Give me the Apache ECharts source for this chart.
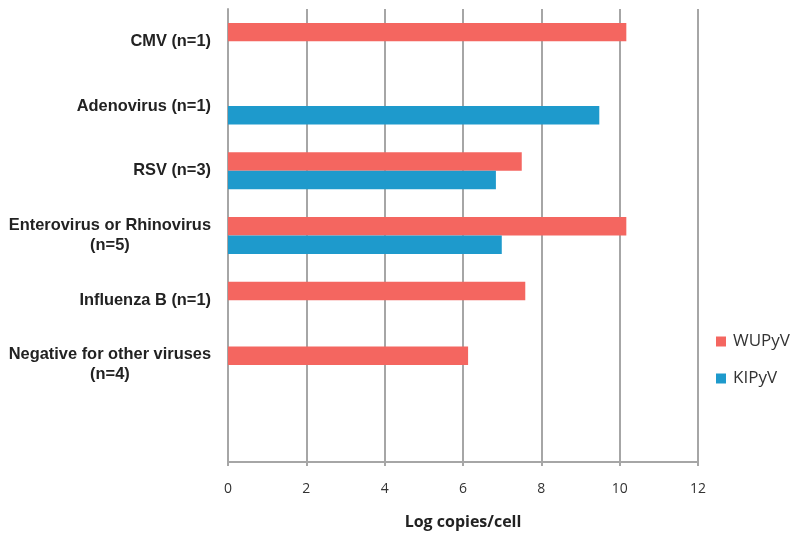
<!DOCTYPE html>
<html>
<head>
<meta charset="utf-8">
<script src="https://cdn.jsdelivr.net/npm/echarts@6/dist/echarts.min.js"></script>
<style>html,body{margin:0;padding:0;background:#fff}#c{width:800px;height:540px}</style>
</head>
<body>
<div id="c"></div>
<script>
const categories = ['CMV (n=1)', 'Adenovirus (n=1)', 'RSV (n=3)', 'Enterovirus or Rhinovirus\n(n=5)', 'Influenza B (n=1)', 'Negative for other viruses\n(n=4)', ''];
const seriesNames = ['WUPyV', 'KIPyV'];
const wupyv = [10.17, null, 7.50, 10.17, 7.59, 6.13, null];
const kipyv = [null, 9.48, 6.84, 6.99, null, null, null];
const xTicks = [0, 2, 4, 6, 8, 10, 12];

const chart = echarts.init(document.getElementById('c'), null, {renderer: 'canvas'});
chart.setOption({
  animation: false,
  backgroundColor: '#ffffff',
  grid: {left: 228, right: 102, top: 9, bottom: 78, containLabel: false},
  legend: {
    orient: 'vertical',
    left: 716, top: 333, padding: 0,
    itemWidth: 10, itemHeight: 10, itemGap: 20,
    icon: 'rect',
    textStyle: {fontFamily: 'Open Sans', fontSize: 17, color: '#333', padding: [0, 0, 0, 2]},
    data: seriesNames
  },
  xAxis: {
    type: 'value', min: xTicks[0], max: xTicks[xTicks.length - 1], interval: 2,
    name: 'Log copies/cell', nameLocation: 'middle', nameGap: 52,
    nameTextStyle: {fontFamily: 'Open Sans', fontWeight: 'bold', fontSize: 16, color: '#222'},
    axisLine: {show: true, lineStyle: {color: '#a6a6a6', width: 2}},
    axisTick: {show: true, length: 4, lineStyle: {color: '#a6a6a6', width: 2}},
    axisLabel: {margin: 20, fontFamily: 'Open Sans', fontSize: 14, color: '#333'},
    splitLine: {show: true, lineStyle: {color: '#a6a6a6', width: 2}}
  },
  yAxis: {
    type: 'category', data: categories, inverse: true,
    axisLine: {show: true, lineStyle: {color: '#a6a6a6', width: 2}},
    axisTick: {show: false},
    axisLabel: {
      margin: 17, color: '#222',
      formatter: function (v) { return v.split('\n').map(s => '{a|' + s + '}').join('\n'); },
      rich: {a: {fontFamily: 'Liberation Sans', fontWeight: 'bold', fontSize: 16.4, color: '#222', align: 'center', lineHeight: 20}}
    }
  },
  series: [
    {name: seriesNames[0], type: 'bar', data: wupyv, barGap: '0%', barCategoryGap: '43%', itemStyle: {color: '#F46660'}},
    {name: seriesNames[1], type: 'bar', data: kipyv, barGap: '0%', barCategoryGap: '43%', itemStyle: {color: '#1E9ACC'}}
  ]
});
</script>
</body>
</html>
